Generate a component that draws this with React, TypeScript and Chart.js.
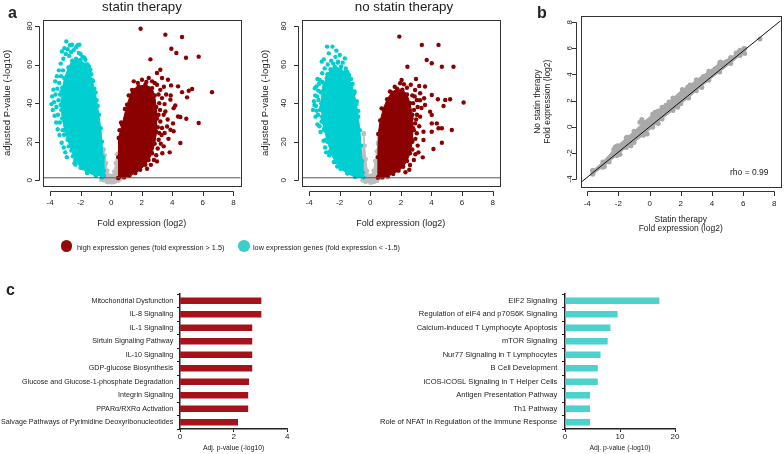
import React, { useEffect, useRef } from "react";
import { Chart, registerables } from "chart.js";

Chart.register(...registerables);

const FONT = "'Liberation Sans', Arial, Helvetica, sans-serif";
Chart.defaults.font.family = FONT;

const TEXT = "#222222";
const AXIS = "#333333";
const RED = "#8b0000";
const CYAN = "#00ced1";
const GREY = "#bebebe";
const GREY_B = "#a9a9a9";
const BAR_RED = "#a6121a";
const BAR_CYAN = "#4cd1cc";

// ---------------- Panel a : volcano plots ----------------
const VOLCANO_TITLES = ["statin therapy", "no statin therapy"];
const VOLCANO_X_TITLE = "Fold expression (log2)";
const VOLCANO_Y_TITLE = "adjusted P-value (-log10)";
const VOLCANO_X_TICKS = [-4, -2, 0, 2, 4, 6, 8];
const VOLCANO_Y_TICKS = [0, 20, 40, 60, 80];
const VOLCANO_X_RANGE = [-4.48, 8.48];
const VOLCANO_Y_RANGE = [-2.8, 83.1];
const SIG_THRESHOLD = 1.3;
const LEGEND_HIGH = "high expression genes (fold expression > 1.5)";
const LEGEND_LOW = "low expression genes (fold expression < -1.5)";

// statin therapy
const statinGreyCore = [[-0.5,16],[-0.42,13],[-0.33,9],[-0.25,5],[-0.12,2.5],[0.05,2.3],[0.2,4.5],[0.3,9],[0.38,13.5],[0.5,14],[0.55,8],[0.55,2],[0.45,-0.2],[0.25,-0.8],[0.0,-1.0],[-0.3,-0.8],[-0.55,0],[-0.62,2],[-0.58,8],[-0.55,13]];
const statinGreyPts = [[-0.5,15.8],[0.45,13.2],[0.6,0.5],[-0.65,0.3],[0.1,-1.1],[-0.2,-1.0]];
const statinCyanCore = [[-3.05,53],[-2.8,58.5],[-2.55,62],[-2.3,63],[-2.0,62.5],[-1.7,60],[-1.45,56.5],[-1.25,52],[-1.1,47.5],[-0.95,41.5],[-0.8,34],[-0.68,27],[-0.6,20],[-0.53,12],[-0.48,5],[-0.47,2.5],[-1.0,2.4],[-1.55,4],[-2.0,6.5],[-2.35,10.5],[-2.6,15.5],[-2.85,21],[-3.05,26],[-3.2,32],[-3.3,39],[-3.25,46]];
const statinCyanPts = [[-3.91,39.5],[-3.86,43.5],[-3.82,36.5],[-3.78,47],[-3.74,40.5],[-3.7,33.5],[-3.66,51.3],[-3.64,44.5],[-3.6,30],[-3.58,38],[-3.55,54],[-3.52,47.5],[-3.5,26.5],[-3.48,34],[-3.45,41.5],[-3.42,57],[-3.4,50.5],[-3.38,23.5],[-3.36,30],[-3.34,44.5],[-3.3,60.5],[-3.28,54],[-3.26,36.5],[-3.24,19.5],[-3.22,66.8],[-3.2,48],[-3.17,26],[-3.15,57],[-3.13,63],[-3.1,17],[-3.08,23.6],[-3.06,68.5],[-3.0,14.5],[-2.97,65.5],[-2.93,72],[-2.9,12],[-2.85,68],[-2.78,17.6],[-2.75,64.5],[-2.7,70],[-2.62,66.5],[-2.56,70.3],[-2.5,12.5],[-2.45,15],[-2.45,67.5],[-2.4,8.9],[-2.34,8.1],[-2.3,69],[-2.2,70],[-2.12,66],[-2.08,70.3],[-2.0,65.5],[-1.9,6.3],[-1.88,64],[-1.75,63.5],[-1.69,62.5],[-1.58,3.8],[-1.55,60],[-1.45,59],[-1.36,57.3],[-1.3,55],[-1.18,51.5],[-1.03,2.9],[-1.02,45.5],[-0.88,38.5],[-0.6,1.5]];
const statinRedCore = [[0.47,1.2],[0.47,12],[0.49,21.9],[0.71,28.8],[1.04,39.2],[1.37,46.9],[1.8,48.7],[2.24,49.5],[2.68,47.8],[2.85,44],[2.95,38],[3.0,32],[2.95,25],[2.85,19],[2.68,14],[2.45,10.5],[2.24,8],[1.9,5.5],[1.59,3.8],[1.2,2.3],[0.85,1.5]];
const statinRedPts = [[1.93,78.6],[3.55,75.5],[4.64,74.3],[3.94,68.2],[4.27,66],[2.57,62.7],[4.9,63.5],[5.73,64.1],[3.22,57.3],[3.0,55.6],[2.02,52.1],[2.46,53],[3.33,53],[3.72,52.1],[3.92,49.2],[4.38,48.7],[4.64,45.7],[5.08,46.4],[5.3,47.3],[4.97,43],[6.6,45.7],[3.88,41.8],[4.2,38.8],[4.09,37.4],[3.55,35.7],[4.38,33.1],[4.53,32.8],[4.92,31.9],[5.73,29.7],[3.66,27.9],[4.09,25.4],[3.88,26.2],[3.33,27.1],[4.53,19.3],[3.83,14.5],[3.0,9.8],[3.44,17.6],[3.11,21],[3.22,30.5],[3.44,34],[3.33,42.6],[3.22,46.9],[3.0,49.5],[2.68,51.3],[1.48,51.3],[1.15,44],[0.9,37],[0.65,30],[0.55,26],[3.1,44.5],[3.15,40],[3.2,36.5],[3.1,34],[3.05,27.5],[3.15,24.5],[3.3,23.5],[3.25,19],[3.05,16.5],[2.95,13],[2.8,10.5],[2.6,8],[2.35,6],[3.5,39.5],[3.6,44.5],[3.45,48.5],[3.7,31.5],[3.5,24.5],[3.75,21.5],[3.35,14],[2.85,50.5],[2.3,51],[1.75,50.5],[3.9,44],[4.05,29.5]];

// no statin therapy
const noStatinGreyCore = [[-0.42,24],[-0.36,18],[-0.29,11],[-0.2,5],[-0.07,2.3],[0.1,2.5],[0.22,5],[0.32,10],[0.42,15],[0.5,19],[0.56,11],[0.56,2],[0.45,-0.3],[0.25,-0.9],[0.0,-1.1],[-0.3,-0.9],[-0.48,0],[-0.52,4],[-0.5,11],[-0.47,18]];
const noStatinGreyPts = [[-0.42,24.5],[0.5,19.5],[0.55,16],[-0.5,0],[0.6,1],[1.15,1.5],[0.05,-1.3]];
const noStatinCyanCore = [[-3.0,50],[-2.8,55],[-2.55,57.5],[-2.25,58],[-1.95,57.5],[-1.65,56],[-1.4,53],[-1.2,49.5],[-1.05,45],[-0.9,39.5],[-0.78,33],[-0.68,26],[-0.6,18],[-0.53,10],[-0.48,4],[-0.46,1.6],[-1.0,1.8],[-1.5,3.5],[-1.95,6],[-2.3,9.5],[-2.55,14],[-2.8,20],[-3.0,26],[-3.15,33],[-3.2,40],[-3.15,46]];
const noStatinCyanPts = [[-3.74,36.5],[-3.68,41],[-3.62,47.7],[-3.58,33],[-3.55,38.5],[-3.52,48.6],[-3.48,43.5],[-3.45,29],[-3.41,33.9],[-3.38,41.6],[-3.35,50],[-3.3,52],[-3.28,36.5],[-3.25,25],[-3.22,45.5],[-3.18,30.5],[-3.17,61.5],[-3.14,55.5],[-3.1,39.5],[-3.08,32.1],[-3.05,20.5],[-3.04,62.7],[-3.02,48],[-3.0,27],[-2.98,58],[-2.95,43],[-2.91,20.9],[-2.9,35],[-2.88,14.5],[-2.85,53],[-2.82,69.3],[-2.78,60],[-2.75,30.4],[-2.71,65.8],[-2.68,13],[-2.64,14.9],[-2.6,57.5],[-2.55,62],[-2.47,69.3],[-2.42,60.5],[-2.38,9.5],[-2.32,58.9],[-2.28,64],[-2.21,67.2],[-2.16,7.1],[-2.12,61],[-2.1,61.5],[-2.05,57.5],[-1.99,65],[-1.9,59],[-1.8,61],[-1.66,63.2],[-1.6,58],[-1.51,56.3],[-1.45,55],[-1.38,54.6],[-1.25,52.5],[-1.15,50],[-1.02,46],[-0.88,41],[-0.78,36],[-3.6,44],[-3.5,36],[-3.4,46.5],[-3.32,28],[-3.2,38],[-3.12,51],[-3.05,30],[-2.95,17],[-3.45,52.5],[-3.65,39]];
const noStatinRedCore = [[0.5,1.5],[0.5,12],[0.52,24],[0.65,31],[0.85,37],[1.1,42],[1.4,45.5],[1.75,47.5],[2.1,47],[2.4,44.5],[2.6,40],[2.75,34],[2.8,27],[2.75,20],[2.6,14],[2.4,10],[2.15,7],[1.85,5],[1.5,3.3],[1.15,2.2],[0.8,1.5]];
const noStatinRedPts = [[1.9,74.5],[3.37,70.2],[4.46,70.2],[3.69,62.4],[4.02,60.7],[2.43,58.9],[4.68,58.9],[5.44,58.9],[6.1,40.3],[5.22,42],[4.9,41.6],[4.79,38.5],[4.42,42],[4.02,44.2],[3.52,42.5],[3.91,35.6],[4.02,33.9],[3.58,39],[4.02,29.5],[4.35,29.5],[4.46,27],[4.68,27],[4.02,25.2],[5.33,26.1],[3.48,25.2],[3.04,24.4],[3.48,20.9],[4.68,19.5],[4.13,16.2],[3.43,11.9],[2.6,7.9],[2.93,46.8],[3.26,45.1],[3.58,48.6],[2.99,52.5],[3.2,48.9],[2.38,41.6],[2.86,36.5],[2.93,29.5],[2.71,20.9],[2.38,14],[3.04,41.6],[3.26,33],[0.74,37.3],[1.29,46],[1.95,50.3],[2.05,52],[2.65,49.5],[2.4,48],[2.75,44],[2.8,40],[2.7,32],[2.85,26],[2.75,16],[2.95,13.5],[3.1,18],[3.2,28],[3.05,34],[3.35,37.5],[2.55,5.5],[2.3,4.2],[1.6,48.5],[2.2,49.8],[2.95,21.5],[3.1,38],[3.25,41.5],[2.9,43.5],[3.0,31.5],[3.15,14.5],[2.85,10.5]];

// ---------------- Panel b : correlation ----------------
const CORR_X_TITLE = ["Statin therapy", "Fold expression (log2)"];
const CORR_Y_TITLE = ["No statin therapy", "Fold expression (log2)"];
const CORR_TICKS = [-4, -2, 0, 2, 4, 6, 8];
const CORR_X_RANGE = [-4.42, 8.41];
const CORR_Y_RANGE = [-4.64, 8.48];
const CORR_RHO = "rho = 0.99";
const corrBandCore = [[-3.65,-3.35],[-3.0,-2.7],[-2.3,-1.75],[-2.1,-1.5],[-1.5,-0.85],[-1.0,-0.35],[-0.4,0.35],[0.2,0.95],[0.8,1.5],[1.5,2.2],[2.1,2.85],[2.6,3.2],[3.0,3.6],[3.8,4.25],[4.5,4.9],[5.2,5.3],[5.8,5.85],[6.1,6.0],[6.1,5.6],[5.8,5.45],[5.2,4.85],[4.5,4.2],[3.8,3.55],[3.0,2.75],[2.5,2.2],[2.0,1.75],[1.5,1.25],[0.8,0.6],[0.2,-0.05],[-0.4,-0.65],[-1.0,-1.2],[-1.5,-1.6],[-2.1,-2.2],[-2.6,-2.7],[-3.0,-3.1],[-3.65,-3.65]];
const corrBandPts = [[-3.62,-3.5],[-2.2,-1.55],[-2.05,-1.45],[-1.45,-0.8],[-0.62,0.35],[-0.5,0.55],[0.35,1.1],[0.55,1.2],[1.05,1.65],[1.25,1.9],[2.45,3.05],[2.6,3.1],[3.45,3.85],[4.55,4.95],[4.75,4.85],[5.0,5.0],[5.55,5.65],[5.75,5.75],[6.05,6.0],[7.08,6.72],[-0.15,-0.55],[0.55,0.25],[1.8,1.5],[3.35,3.0],[-1.9,-2.1],[-2.9,-3.05],[-1.2,-1.45]];
const corrFitLine = [[-4.42,-4.28],[8.41,8.12]];

// ---------------- Panel c : pathways ----------------
const PATHWAY_X_TITLE = "Adj. p-value (-log10)";
const HIGH_PATHWAYS = ["Mitochondrial Dysfunction","IL-8 Signaling","IL-1 Signaling","Sirtuin Signaling Pathway","IL-10 Signaling","GDP-glucose Biosynthesis","Glucose and Glucose-1-phosphate Degradation","Integrin Signaling","PPARα/RXRα Activation","Salvage Pathways of Pyrimidine Deoxyribonucleotides"];
const HIGH_VALUES = [3.02,3.02,2.68,2.68,2.68,2.68,2.56,2.53,2.53,2.15];
const HIGH_TICKS = [0, 2, 4];
const LOW_PATHWAYS = ["EIF2 Signaling","Regulation of eIF4 and p70S6K Signaling","Calcium-induced T Lymphocyte Apoptosis","mTOR Signaling","Nur77 Signaling in T Lymphocytes","B Cell Development","iCOS-iCOSL Signaling in T Helper Cells","Antigen Presentation Pathway","Th1 Pathway","Role of NFAT in Regulation of the Immune Response"];
const LOW_VALUES = [17.1,9.5,8.2,7.7,6.4,5.9,5.9,4.5,4.5,4.5];
const LOW_TICKS = [0, 10, 20];

// ---------------- helpers ----------------
const pts = (a: number[][]) => a.map(([x, y]) => ({ x, y }));
const ring = (a: number[][]) => pts([...a, a[0]]);
const setTicks = (vals: number[]) => (s: any) => { s.ticks = vals.map((v) => ({ value: v })); };
const fixSize = (size: number) => (s: any) => {
  if (s.isHorizontal()) s.height = size; else s.width = size;
  s.paddingLeft = 0; s.paddingRight = 0; s.paddingTop = 0; s.paddingBottom = 0;
};

const rAxesPlugin = {
  id: "rAxes",
  afterDraw(chart: any, _args: any, opts: any) {
    if (!opts || !opts.enabled) return;
    const { ctx, chartArea: a, scales } = chart;
    const xs = scales.x, ys = scales.y;
    ctx.save();
    ctx.strokeStyle = AXIS;
    ctx.lineWidth = 1;
    ctx.strokeRect(Math.round(a.left) + 0.5, Math.round(a.top) + 0.5, Math.round(a.right - a.left), Math.round(a.bottom - a.top));
    const xt = xs.ticks.map((t: any) => Math.round(xs.getPixelForValue(t.value)) + 0.5);
    const yt = ys.ticks.map((t: any) => Math.round(ys.getPixelForValue(t.value)) + 0.5);
    const yl = Math.round(a.bottom + opts.xOffset) + 0.5;
    const xl = Math.round(a.left - opts.yOffset) + 0.5;
    ctx.beginPath();
    ctx.moveTo(xt[0], yl); ctx.lineTo(xt[xt.length - 1], yl);
    xt.forEach((px: number) => { ctx.moveTo(px, yl); ctx.lineTo(px, yl + opts.tickLen); });
    ctx.moveTo(xl, yt[0]); ctx.lineTo(xl, yt[yt.length - 1]);
    yt.forEach((py: number) => { ctx.moveTo(xl, py); ctx.lineTo(xl - opts.tickLen, py); });
    ctx.stroke();
    ctx.restore();
  },
};

const tickFont = { family: FONT, size: 8 };

function volcanoConfig(v: any) {
  const dot = { pointRadius: 2.2, pointBorderWidth: 0, pointHoverRadius: 2.2 };
  const core = (data: number[][], color: string, order: number) => ({
    data: ring(data), showLine: true, fill: "shape", backgroundColor: color, borderColor: color,
    borderWidth: 1, ...dot, order,
  });
  return {
    type: "scatter",
    data: {
      datasets: [
        { label: "threshold", data: pts([[VOLCANO_X_RANGE[0], SIG_THRESHOLD], [VOLCANO_X_RANGE[1], SIG_THRESHOLD]]), showLine: true, borderColor: "#555555", borderWidth: 1, pointRadius: 0, order: 0 },
        { label: "high", data: pts(v.redPts), backgroundColor: RED, ...dot, order: 1 },
        { label: "high core", ...core(v.redCore, RED, 2) },
        { label: "low", data: pts(v.cyanPts), backgroundColor: CYAN, ...dot, order: 3 },
        { label: "low core", ...core(v.cyanCore, CYAN, 4) },
        { label: "ns", data: pts(v.greyPts), backgroundColor: GREY, ...dot, order: 5 },
        { label: "ns core", ...core(v.greyCore, GREY, 6) },
      ],
    },
    plugins: [rAxesPlugin],
    options: {
      responsive: false, animation: false, devicePixelRatio: 1, events: [],
      layout: { autoPadding: false, padding: { top: 20, right: v.padRight, left: 0, bottom: 0 } },
      plugins: {
        legend: { display: false }, tooltip: { enabled: false },
        rAxes: { enabled: true, xOffset: 5.3, yOffset: 3.7, tickLen: 4.5 },
      },
      scales: {
        x: {
          type: "linear", bounds: "data", min: VOLCANO_X_RANGE[0], max: VOLCANO_X_RANGE[1],
          afterBuildTicks: setTicks(VOLCANO_X_TICKS), afterFit: fixSize(46.3),
          grid: { display: false, drawTicks: false }, border: { display: false },
          ticks: { font: tickFont, color: TEXT, padding: 12.2, maxRotation: 0, autoSkip: false },
          title: { display: true, text: VOLCANO_X_TITLE, color: TEXT, font: { family: FONT, size: 9 }, padding: { top: 0, bottom: 3.3 } },
        },
        y: {
          type: "linear", bounds: "data", min: VOLCANO_Y_RANGE[0], max: VOLCANO_Y_RANGE[1],
          afterBuildTicks: setTicks(VOLCANO_Y_TICKS), afterFit: fixSize(v.yWidth),
          grid: { display: false, drawTicks: false }, border: { display: false },
          ticks: { font: tickFont, color: TEXT, padding: v.yTickPad, minRotation: 90, maxRotation: 90, crossAlign: "center", autoSkip: false },
          title: { display: true, text: VOLCANO_Y_TITLE, color: TEXT, font: { family: FONT, size: 9.5 }, padding: { top: v.yTitlePad, bottom: 0 } },
        },
      },
    },
  };
}

function corrConfig() {
  return {
    type: "scatter",
    data: {
      datasets: [
        { label: "fit", data: pts(corrFitLine), showLine: true, borderColor: "#111111", borderWidth: 1, pointRadius: 0, order: 0 },
        { label: "genes", data: pts(corrBandPts), backgroundColor: GREY_B, pointRadius: 2.5, pointBorderWidth: 0, order: 1 },
        { label: "genes core", data: ring(corrBandCore), showLine: true, fill: "shape", backgroundColor: GREY_B, borderColor: GREY_B, borderWidth: 1, pointRadius: 2.5, pointBorderWidth: 0, order: 2 },
      ],
    },
    plugins: [rAxesPlugin],
    options: {
      responsive: false, animation: false, devicePixelRatio: 1, events: [],
      layout: { autoPadding: false, padding: { top: 16, right: 3.3, left: 0, bottom: 0 } },
      plugins: {
        legend: { display: false }, tooltip: { enabled: false },
        rAxes: { enabled: true, xOffset: 4, yOffset: 5, tickLen: 4.5 },
      },
      scales: {
        x: {
          type: "linear", bounds: "data", min: CORR_X_RANGE[0], max: CORR_X_RANGE[1],
          afterBuildTicks: setTicks(CORR_TICKS), afterFit: fixSize(52.7),
          grid: { display: false, drawTicks: false }, border: { display: false },
          ticks: { font: tickFont, color: TEXT, padding: 11.9, maxRotation: 0, autoSkip: false },
          title: { display: true, text: CORR_X_TITLE, color: TEXT, font: { family: FONT, size: 8.5, lineHeight: 1.15 }, padding: { top: 0, bottom: 6.1 } },
        },
        y: {
          type: "linear", bounds: "data", min: CORR_Y_RANGE[0], max: CORR_Y_RANGE[1],
          afterBuildTicks: setTicks(CORR_TICKS), afterFit: fixSize(60.7),
          grid: { display: false, drawTicks: false }, border: { display: false },
          ticks: { font: tickFont, color: TEXT, padding: 7.8, minRotation: 90, maxRotation: 90, crossAlign: "center", autoSkip: false },
          title: { display: true, text: CORR_Y_TITLE, color: TEXT, font: { family: FONT, size: 8.5, lineHeight: 1.15 }, padding: { top: 13.2, bottom: 0 } },
        },
      },
    },
  };
}

function barConfig(labels: string[], values: number[], ticks: number[], color: string, yWidth: number, padRight: number, labelPad: number, labelSize: number) {
  return {
    type: "bar",
    data: { labels, datasets: [{ label: "pathways", data: values, backgroundColor: color, borderWidth: 0, barThickness: 6 }] },
    options: {
      indexAxis: "y", responsive: false, animation: false, devicePixelRatio: 1, events: [],
      layout: { autoPadding: false, padding: { top: 14, right: padRight, left: 0, bottom: 0 } },
      plugins: { legend: { display: false }, tooltip: { enabled: false } },
      scales: {
        x: {
          type: "linear", min: ticks[0], max: ticks[ticks.length - 1],
          afterBuildTicks: setTicks(ticks), afterFit: fixSize(25),
          grid: { display: true, drawOnChartArea: false, drawTicks: true, tickLength: 3, color: "#222222", lineWidth: 1 },
          border: { display: true, color: "#222222", width: 1.5 },
          ticks: { font: tickFont, color: TEXT, padding: 0, maxRotation: 0, autoSkip: false },
          title: { display: true, text: PATHWAY_X_TITLE, color: TEXT, font: { family: FONT, size: 6.8 }, padding: { top: 0, bottom: 2.2 } },
        },
        y: {
          type: "category", afterFit: fixSize(yWidth),
          grid: { display: true, drawOnChartArea: false, drawTicks: true, tickLength: 3, offset: true, color: "#222222", lineWidth: 1 },
          border: { display: true, color: "#222222", width: 1.5 },
          ticks: { font: { family: FONT, size: labelSize }, color: TEXT, padding: labelPad, autoSkip: false },
        },
      },
    },
  };
}

function ChartCanvas({ left, top, width, height, make }: any) {
  const ref = useRef<HTMLCanvasElement | null>(null);
  useEffect(() => {
    const chart = new Chart(ref.current as any, make());
    return () => chart.destroy();
  }, []);
  return <canvas ref={ref} width={width} height={height} style={{ position: "absolute", left, top, width, height }} />;
}

function Txt({ x, base, size, bold = false, align = "left", color = TEXT, children }: any) {
  const style: any = {
    position: "absolute", top: base - 0.8465 * size, fontSize: size, lineHeight: size + "px",
    fontWeight: bold ? 700 : 400, whiteSpace: "nowrap", color, willChange: "transform",
  };
  if (align === "center") { style.left = x; style.transform = "translateX(-50%)"; }
  else { style.left = x; style.transform = "translateZ(0)"; }
  return <div style={style}>{children}</div>;
}

function Dot({ cx, cy, r, color }: any) {
  return <div style={{ position: "absolute", left: cx - r, top: cy - r, width: 2 * r, height: 2 * r, borderRadius: "50%", background: color }} />;
}

const statinData = { greyCore: statinGreyCore, greyPts: statinGreyPts, cyanCore: statinCyanCore, cyanPts: statinCyanPts, redCore: statinRedCore, redPts: statinRedPts, padRight: 9.3, yWidth: 42.7, yTickPad: 8.85, yTitlePad: 1.8 };
const noStatinData = { greyCore: noStatinGreyCore, greyPts: noStatinGreyPts, cyanCore: noStatinCyanCore, cyanPts: noStatinCyanPts, redCore: noStatinRedCore, redPts: noStatinRedPts, padRight: 10, yWidth: 51.7, yTickPad: 13.85, yTitlePad: 9.3 };

export default function App() {
  return (
    <div style={{ position: "fixed", left: 0, top: 0, width: 784, height: 454, background: "#ffffff", overflow: "hidden", fontFamily: FONT }}>
      <ChartCanvas left={0} top={0} width={250} height={232} make={() => volcanoConfig(statinData)} />
      <ChartCanvas left={250} top={0} width={260} height={232} make={() => volcanoConfig(noStatinData)} />
      <ChartCanvas left={520} top={0} width={264} height={240} make={corrConfig} />
      <ChartCanvas left={0} top={280} width={300} height={174} make={() => barConfig(HIGH_PATHWAYS, HIGH_VALUES, HIGH_TICKS, BAR_RED, 180, 12.7, 3.7, 7.15)} />
      <ChartCanvas left={300} top={280} width={400} height={174} make={() => barConfig(LOW_PATHWAYS, LOW_VALUES, LOW_TICKS, BAR_CYAN, 265, 25, 4.7, 7.55)} />

      <Txt x={7.5} base={18.3} size={16} bold>a</Txt>
      <Txt x={537} base={18.3} size={16} bold>b</Txt>
      <Txt x={6} base={295.7} size={16} bold>c</Txt>

      <Txt x={141.7} base={10.8} size={13.3} align="center">{VOLCANO_TITLES[0]}</Txt>
      <Txt x={404} base={10.8} size={13.3} align="center">{VOLCANO_TITLES[1]}</Txt>

      <Txt x={730} base={175.3} size={8.5}>{CORR_RHO}</Txt>

      <Dot cx={66.7} cy={246} r={5.7} color="#930a0a" />
      <Txt x={77.3} base={250} size={7.3}>{LEGEND_HIGH}</Txt>
      <Dot cx={244} cy={246} r={5.7} color="#3ccdcd" />
      <Txt x={253.3} base={250} size={7.3}>{LEGEND_LOW}</Txt>
    </div>
  );
}
